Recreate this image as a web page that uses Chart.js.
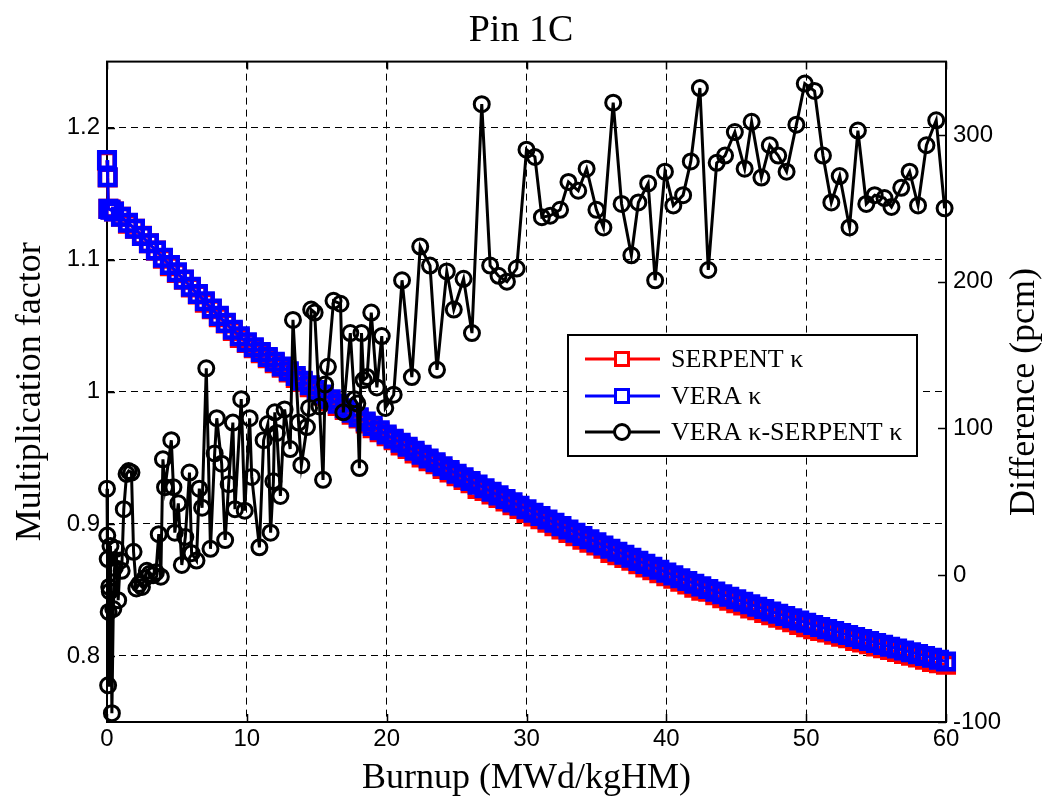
<!DOCTYPE html>
<html><head><meta charset="utf-8">
<script src="https://cdn.jsdelivr.net/npm/chart.js@4.4.0/dist/chart.umd.min.js"></script>
<style>html,body{margin:0;padding:0;background:#fff;}#wrap{width:1042px;height:804px;}</style>
</head><body><div id="wrap"><canvas id="c" width="1042" height="804"></canvas></div>
<script>
// ---- data ----
const burnupK = [0,0.05,0.1,0.25,0.5,1,1.5,2,2.5,3,3.5,4,4.5,5,5.5,6,6.5,7,7.5,8,8.5,9,9.5,10,
10.5,11,11.5,12,12.5,13,13.5,14,14.5,15,15.5,16,16.5,17,17.5,18,18.5,19,19.5,20,
20.5,21,21.5,22,22.5,23,23.5,24,24.5,25,25.5,26,26.5,27,27.5,28,28.5,29,29.5,30,
30.5,31,31.5,32,32.5,33,33.5,34,34.5,35,35.5,36,36.5,37,37.5,38,38.5,39,39.5,40,
40.5,41,41.5,42,42.5,43,43.5,44,44.5,45,45.5,46,46.5,47,47.5,48,48.5,49,49.5,50,
50.5,51,51.5,52,52.5,53,53.5,54,54.5,55,55.5,56,56.5,57,57.5,58,58.5,59,59.5,60];
const veraK = [1.1755,1.1625,1.1385,1.1378,1.1365,1.1325,1.1280,1.1235,1.1180,1.1125,1.1070,1.1015,1.0960,1.0905,1.0850,1.0795,1.0740,1.0685,1.0630,1.0575,1.0522,1.0470,1.0420,1.0375,
1.0338,1.0301,1.0264,1.0227,1.0191,1.0155,1.0119,1.0084,1.0049,1.0014,0.9979,0.9944,0.9910,0.9876,0.9842,0.9808,0.9775,0.9742,0.9709,0.9676,
0.9645,0.9614,0.9584,0.9554,0.9524,0.9495,0.9466,0.9437,0.9408,0.9380,0.9352,0.9324,0.9297,0.9270,0.9243,0.9216,0.9189,0.9163,0.9137,0.9111,
0.9085,0.9059,0.9033,0.9008,0.8983,0.8958,0.8933,0.8908,0.8884,0.8860,0.8836,0.8812,0.8789,0.8766,0.8743,0.8720,0.8697,0.8675,0.8653,0.8631,
0.8610,0.8589,0.8568,0.8547,0.8527,0.8507,0.8487,0.8467,0.8448,0.8429,0.8410,0.8391,0.8373,0.8355,0.8337,0.8319,0.8302,0.8285,0.8268,0.8251,
0.8235,0.8219,0.8203,0.8188,0.8173,0.8158,0.8143,0.8128,0.8113,0.8098,0.8084,0.8070,0.8056,0.8042,0.8028,0.8014,0.8000,0.7986,0.7972,0.7958];
const serpentK = [1.1749,1.1622,1.1386,1.1380,1.1365,1.1325,1.1273,1.1235,1.1181,1.1125,1.1069,1.1008,1.0951,1.0900,1.0848,1.0790,1.0736,1.0674,1.0625,1.0565,1.0517,1.0460,1.0408,1.0370,
1.0330,1.0292,1.0254,1.0217,1.0182,1.0146,1.0105,1.0074,1.0035,0.9999,0.9970,0.9929,0.9892,0.9863,0.9826,0.9799,0.9761,0.9724,0.9694,0.9664,
0.9633,0.9594,0.9568,0.9534,0.9502,0.9474,0.9452,0.9416,0.9390,0.9360,0.9332,0.9307,0.9265,0.9249,0.9223,0.9196,0.9169,0.9142,0.9113,0.9082,
0.9057,0.9035,0.9009,0.8983,0.8958,0.8931,0.8907,0.8880,0.8858,0.8836,0.8812,0.8780,0.8763,0.8742,0.8721,0.8694,0.8670,0.8650,0.8626,0.8604,
0.8585,0.8563,0.8541,0.8517,0.8494,0.8486,0.8459,0.8438,0.8418,0.8399,0.8382,0.8360,0.8346,0.8326,0.8308,0.8290,0.8274,0.8255,0.8235,0.8218,
0.8202,0.8190,0.8177,0.8161,0.8145,0.8134,0.8113,0.8102,0.8088,0.8072,0.8058,0.8045,0.8030,0.8015,0.8001,0.7989,0.7971,0.7955,0.7945,0.7933];
const burnupD = [0,0.02,0.05,0.08,0.12,0.16,0.2,0.25,0.35,0.45,0.55,0.65,0.8,0.95,1.05,1.2,1.4,1.55,1.75,1.9,2.1,2.3,2.5,2.7,2.85,3.05,3.3,3.5,3.7,3.85,
4.0,4.15,4.6,4.75,4.85,5.1,5.35,5.6,5.9,6.05,6.4,6.6,6.8,7.1,7.4,7.7,7.85,8.2,8.45,8.7,9.0,9.15,9.6,9.85,
10.2,10.35,10.9,11.2,11.5,11.7,11.9,12.0,12.15,12.4,12.7,13.1,13.3,13.7,13.9,14.3,14.45,14.6,14.85,15.2,15.45,15.6,15.8,16.2,16.7,16.9,
17.4,17.7,17.9,18.05,18.2,18.35,18.6,18.9,19.3,19.65,19.9,
20.5,21.1,21.8,22.4,23.1,23.6,24.3,24.8,25.5,26.1,26.8,27.4,28.0,28.6,29.3,30.0,30.6,31.1,31.7,32.4,33.0,33.7,34.3,35.0,35.5,36.2,36.8,37.5,38.0,38.7,39.2,39.9,
40.5,41.2,41.75,42.4,43.0,43.6,44.2,44.9,45.6,46.1,46.8,47.4,48.0,48.6,49.3,49.9,50.6,51.2,51.8,52.4,53.1,53.7,54.3,54.9,55.6,56.1,56.8,57.4,58.0,58.6,59.3,59.9];
const diffPcm = [59,27,11,-75,-25,-8,-11,20,-94,-23,5,18,-17,10,3,45,69,71,70,16,-9,-6,-8,-2,3,1,0,2,28,-1,
79,60,92,60,29,49,7,26,70,15,10,59,46,141,18,83,107,76,24,62,104,45,120,44,
107,67,19,92,103,29,64,111,97,54,113,86,174,104,75,101,114,181,179,115,65,130,142,187,185,111,
165,120,117,73,165,133,135,179,128,163,114,
123,201,135,224,211,140,207,181,202,165,321,211,204,200,209,290,285,244,245,249,268,262,277,249,237,322,253,218,254,267,201,275,
252,259,282,332,208,281,286,302,277,309,271,293,286,275,307,335,330,286,254,272,237,303,253,259,257,251,264,275,252,293,310,250];
const xTicks = [0,10,20,30,40,50,60];
const leftTicks = [0.8,0.9,1.0,1.1,1.2];
const rightTicks = [-100,0,100,200,300];
const seriesLabels = ['SERPENT \u03ba','VERA \u03ba','VERA \u03ba-SERPENT \u03ba'];
const seriesColors = ['#ff0000','#0000ff','#000000'];

const toXY = (xs, ys) => xs.map((x, i) => ({x: x, y: ys[i]}));
const SERIF = '"Liberation Serif", "Times New Roman", serif';
const SANS = '"Liberation Sans", Arial, sans-serif';

const framePlugin = {
  id: 'frame',
  beforeDatasetsDraw(chart) {
    const {ctx, chartArea: a, scales} = chart;
    ctx.save();
    ctx.strokeStyle = '#000';
    ctx.lineWidth = 1.5;
    const L = 8;
    ctx.beginPath();
    xTicks.forEach(v => {
      const px = Math.round(scales.x.getPixelForValue(v)) + 0.5;
      ctx.moveTo(px, a.bottom); ctx.lineTo(px, a.bottom - L);
      ctx.moveTo(px, a.top); ctx.lineTo(px, a.top + L);
    });
    leftTicks.forEach(v => {
      const py = Math.round(scales.y.getPixelForValue(v)) + 0.5;
      ctx.moveTo(a.left, py); ctx.lineTo(a.left + L, py);
    });
    rightTicks.forEach(v => {
      const py = Math.round(scales.y2.getPixelForValue(v)) + 0.5;
      ctx.moveTo(a.right, py); ctx.lineTo(a.right - L, py);
    });
    ctx.stroke();
    ctx.lineWidth = 2;
    ctx.strokeRect(a.left, a.top, a.right - a.left, a.bottom - a.top);
    ctx.restore();
  },
  afterDraw(chart) {
    const {ctx} = chart;
    ctx.save();
    ctx.fillStyle = '#000';
    ctx.font = '36px ' + SERIF;
    ctx.textAlign = 'center';
    ctx.textBaseline = 'middle';
    ctx.translate(1025, 392);
    ctx.rotate(-Math.PI / 2);
    ctx.fillText('Difference (pcm)', 0, 0);
    ctx.restore();

    ctx.save();
    const bx = 568, by = 335, bw = 349, bh = 121;
    ctx.fillStyle = '#fff';
    ctx.fillRect(bx, by, bw, bh);
    ctx.strokeStyle = '#000';
    ctx.lineWidth = 2;
    ctx.strokeRect(bx, by, bw, bh);
    const rows = [359, 396, 432];
    chart.data.datasets.forEach((ds, i) => {
      const y = rows[i];
      ctx.strokeStyle = ds.borderColor;
      ctx.lineWidth = 3;
      ctx.beginPath(); ctx.moveTo(585, y); ctx.lineTo(660, y); ctx.stroke();
      ctx.fillStyle = '#fff';
      ctx.lineWidth = 3;
      if (ds.pointStyle === 'rect') {
        const s = 13;
        ctx.fillRect(622 - s/2, y - s/2, s, s);
        ctx.strokeRect(622 - s/2, y - s/2, s, s);
      } else {
        ctx.beginPath(); ctx.arc(622, y, 7.5, 0, Math.PI * 2); ctx.fill(); ctx.stroke();
      }
      ctx.fillStyle = '#000';
      ctx.font = '26px ' + SERIF;
      ctx.textAlign = 'left';
      ctx.textBaseline = 'middle';
      ctx.fillText(ds.label, 671, y + 1);
    });
    ctx.restore();
  }
};

new Chart(document.getElementById('c'), {
  type: 'line',
  data: {
    datasets: [
      {label: seriesLabels[0], data: toXY(burnupK, serpentK), yAxisID: 'y', order: 3,
       borderColor: seriesColors[0], borderWidth: 3, pointStyle: 'rect', pointRadius: 11,
       pointBorderWidth: 4.5, pointBorderColor: seriesColors[0], pointBackgroundColor: 'rgba(0,0,0,0)', clip: false, tension: 0},
      {label: seriesLabels[1], data: toXY(burnupK, veraK), yAxisID: 'y', order: 2,
       borderColor: seriesColors[1], borderWidth: 3, pointStyle: 'rect', pointRadius: 11,
       pointBorderWidth: 4.5, pointBorderColor: seriesColors[1], pointBackgroundColor: 'rgba(0,0,0,0)', clip: false, tension: 0},
      {label: seriesLabels[2], data: toXY(burnupD, diffPcm), yAxisID: 'y2', order: 1,
       borderColor: seriesColors[2], borderWidth: 3, pointStyle: 'circle', pointRadius: 7.5,
       pointBorderWidth: 3, pointBorderColor: seriesColors[2], pointBackgroundColor: 'rgba(0,0,0,0)', clip: false, tension: 0}
    ]
  },
  options: {
    responsive: false,
    animation: false,
    devicePixelRatio: 1,
    layout: {padding: 0},
    events: [],
    plugins: {
      legend: {display: false},
      tooltip: {enabled: false},
      title: {display: true, text: 'Pin 1C', color: '#000',
              font: {family: SERIF, size: 38, weight: 'normal'}, padding: {top: 8, bottom: 8}}
    },
    scales: {
      x: {
        type: 'linear', min: 0, max: 60,
        afterBuildTicks: s => { s.ticks = xTicks.map(v => ({value: v})); },
        afterFit: s => { s.height = 82; },
        ticks: {color: '#000', font: {family: SANS, size: 24}, padding: 3, maxRotation: 0},
        grid: {color: '#000', lineWidth: 1, drawTicks: false},
        border: {display: false, dash: [7, 5]},
        title: {display: true, text: 'Burnup (MWd/kgHM)', color: '#000',
                font: {family: SERIF, size: 36}, padding: {top: 0, bottom: 4}}
      },
      y: {
        type: 'linear', position: 'left', min: 0.75, max: 1.25,
        afterBuildTicks: s => { s.ticks = leftTicks.map(v => ({value: v})); },
        afterFit: s => { s.width = 107; },
        ticks: {color: '#000', font: {family: SANS, size: 24}, padding: 7,
                callback: v => String(Number(v.toFixed(2)))},
        grid: {color: '#000', lineWidth: 1, drawTicks: false},
        border: {display: false, dash: [7, 5]},
        title: {display: true, text: 'Multiplication factor', color: '#000',
                font: {family: SERIF, size: 36}, padding: {top: 9, bottom: 0}}
      },
      y2: {
        type: 'linear', position: 'right', min: -100, max: 350,
        afterBuildTicks: s => { s.ticks = rightTicks.map(v => ({value: v})); },
        afterFit: s => { s.width = 96; },
        ticks: {color: '#000', font: {family: SANS, size: 24}, padding: 7},
        grid: {display: false, drawTicks: false},
        border: {display: false}
      }
    }
  },
  plugins: [framePlugin]
});
</script>
</body></html>
